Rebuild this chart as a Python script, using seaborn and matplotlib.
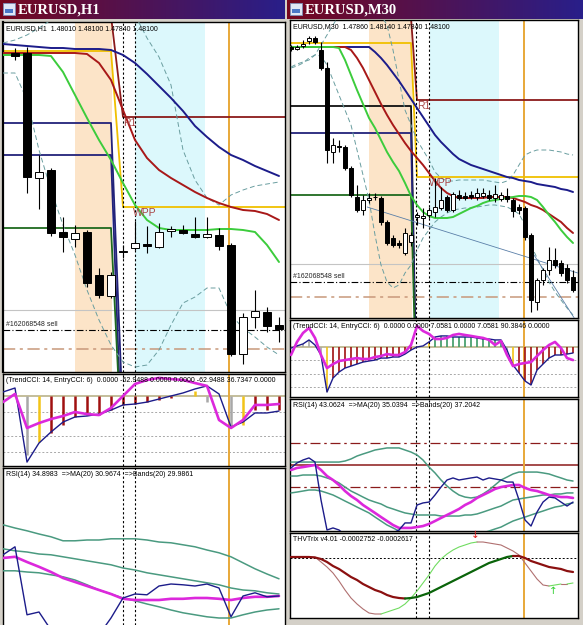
import numpy as np
import matplotlib
matplotlib.use("Agg")
import matplotlib.pyplot as plt
from matplotlib.patches import Rectangle
import seaborn as sns

# ---------------- EURUSD,H1 (left window) ----------------
h1_bars = np.arange(24)
h1_candle_bars = np.arange(1, 24)
h1_level_bars = np.arange(25)
h1_open = [1.48276, 1.48276, 1.47776, 1.47808, 1.47560, 1.47532, 1.47560, 1.47388, 1.47304, 1.47480, 1.47496, 1.47512,
           1.47500, 1.47564, 1.47568, 1.47552, 1.47540, 1.47548, 1.47508, 1.47072, 1.47220, 1.47240, 1.47188]
h1_high = [1.48296, 1.48300, 1.47868, 1.47816, 1.47620, 1.47588, 1.47568, 1.47416, 1.47400, 1.47508, 1.47604, 1.47584,
           1.47596, 1.47584, 1.47588, 1.47620, 1.47620, 1.47576, 1.47516, 1.47236, 1.47328, 1.47260, 1.47220]
h1_low = [1.48248, 1.47716, 1.47652, 1.47544, 1.47480, 1.47500, 1.47340, 1.47296, 1.47296, 1.47456, 1.47488, 1.47476,
          1.47496, 1.47540, 1.47552, 1.47536, 1.47536, 1.47488, 1.47064, 1.47032, 1.47176, 1.47160, 1.47120]
h1_close = [1.48264, 1.47780, 1.47800, 1.47556, 1.47540, 1.47556, 1.47356, 1.47308, 1.47388, 1.47484, 1.47516, 1.47504,
            1.47560, 1.47572, 1.47556, 1.47540, 1.47552, 1.47504, 1.47072, 1.47220, 1.47244, 1.47184, 1.47172]
h1_ma_slow = [1.48312, 1.48308, 1.48304, 1.48300, 1.48296, 1.48296, 1.48292, 1.48292, 1.48292, 1.48288, 1.48268, 1.48236,
              1.48192, 1.48144, 1.48096, 1.48044, 1.47984, 1.47940, 1.47900, 1.47868, 1.47848, 1.47824, 1.47804, 1.47784]
h1_ma_mid = [1.48276, 1.48276, 1.48276, 1.48276, 1.48276, 1.48276, 1.48276, 1.48272, 1.48236, 1.48168, 1.48048, 1.47928,
             1.47856, 1.47808, 1.47776, 1.47748, 1.47720, 1.47696, 1.47676, 1.47660, 1.47648, 1.47644, 1.47632, 1.47608]
h1_ma_fast = [1.48268, 1.48268, 1.48268, 1.48268, 1.48264, 1.48200, 1.48108, 1.48016, 1.47928, 1.47848, 1.47756, 1.47668,
              1.47608, 1.47576, 1.47568, 1.47568, 1.47568, 1.47568, 1.47572, 1.47572, 1.47568, 1.47560, 1.47508, 1.47440]
h1_band_hi = [1.48316, 1.48328, 1.48348, 1.48376, 1.48408, 1.48448, 1.48488, 1.48508, 1.48508, 1.48488, 1.48468, 1.48428,
              1.48336, 1.48260, 1.48148, 1.47888, 1.47768, 1.47696, 1.47668, 1.47708, 1.47728, 1.47744, 1.47752, 1.47760]
h1_band_lo = [1.48196, 1.48196, 1.48088, 1.47888, 1.47728, 1.47588, 1.47468, 1.47328, 1.47208, 1.47108, 1.47040, 1.47020,
              1.47028, 1.47088, 1.47188, 1.47276, 1.47300, 1.47336, 1.47336, 1.47228, 1.47176, 1.47140, 1.47100, 1.47068]
# pivot lines: value before / after the day change
h1_day_change = 9
h1_wpp = [1.48284, 1.47660]
h1_r1 = [1.48424, 1.48020]
h1_s_line1 = [1.47996, 1.46800]
h1_s_line2 = [1.47868, 1.46570]
h1_green_line = [1.47576, 1.46590]
h1_grey_price = 1.47248
h1_sell_price = 1.47168
h1_stop_price = 1.47092
h1_session_a = [6.0, 9.08]
h1_session_b = [11.0, 16.83]
h1_marks = [9.96, 10.96]
h1_now = 18.83

h1_cci_trend = [25, 50, -413, -294, -225, -163, -131, -125, -113, -88, -56, -50, -38, -19, 0, 19, 44, 63, 13, -194,
                -163, -106, -106, -94]
h1_cci_entry = [-38, 13, -200, -169, -144, -125, -100, -113, -119, -75, 0, 75, 100, 113, 106, 100, 81, 63, -150, -200,
                -150, -56, -56, -50]
h1_cci_hist = [0, 0, -369, -288, -231, -181, -131, -119, -119, -88, -56, -50, -38, -25, -13, 0, 31, -38, 0, -194, -181,
               -88, -88, -88]
h1_cci_kind = ['none', 'none', 'grey', 'gold', 'red', 'red', 'red', 'red', 'red', 'red', 'red', 'red', 'red', 'red',
               'red', 'none', 'gold', 'grey', 'none', 'grey', 'gold', 'red', 'red', 'red']
h1_cci_levels = [-100, -250, -350]

h1_rsi = [42.3, 44.3, 27.3, 28.0, 23.5, 21.0, 21.0, 21.0, 22.3, 26.5, 31.5, 32.5, 32.3, 34.5, 35.0, 34.8, 34.5, 35.0,
          34.0, 26.8, 32.0, 32.8, 31.8, 32.0]
h1_rsi_ma = [41.5, 41.8, 40.5, 39.3, 38.0, 36.5, 35.5, 34.5, 33.5, 32.5, 31.3, 31.0, 31.0, 31.0, 31.3, 31.3, 31.5, 31.5,
             31.3, 31.0, 31.5, 31.8, 31.8, 32.0]
h1_rsi_up = [49.8, 49.0, 48.3, 47.5, 46.8, 45.8, 45.8, 46.0, 46.0, 46.3, 46.3, 46.3, 46.0, 45.5, 45.3, 44.8, 44.3, 43.5,
             42.8, 41.8, 40.3, 38.8, 37.5, 36.3]
h1_rsi_mid = [43.8, 43.3, 43.0, 42.5, 42.3, 41.8, 41.3, 40.8, 40.3, 39.8, 39.0, 38.5, 37.8, 37.3, 36.8, 36.3, 35.8, 35.3,
              34.8, 34.0, 33.5, 33.3, 32.8, 32.5]
h1_rsi_dn = [38.3, 38.3, 38.0, 37.8, 37.3, 36.8, 36.0, 34.8, 33.5, 32.5, 31.5, 30.8, 30.0, 29.3, 28.5, 27.8, 27.3, 26.8,
             26.5, 26.5, 27.3, 28.0, 28.5, 28.8]

# ---------------- EURUSD,M30 (right window) ----------------
m30_bars = np.arange(48)
m30_level_bars = np.arange(49)
m30_open = [1.48355, 1.48345, 1.48360, 1.48385, 1.48400, 1.48340, 1.48250, 1.47830, 1.47860, 1.47855, 1.47750, 1.47605,
            1.47540, 1.47590, 1.47605, 1.47600, 1.47480, 1.47400, 1.47375, 1.47325, 1.47380, 1.47505, 1.47500, 1.47515,
            1.47530, 1.47550, 1.47605, 1.47540, 1.47615, 1.47610, 1.47615, 1.47605, 1.47610, 1.47615, 1.47600, 1.47595,
            1.47610, 1.47590, 1.47555, 1.47550, 1.47415, 1.47080, 1.47190, 1.47240, 1.47290, 1.47275, 1.47250, 1.47205]
m30_high = [1.48365, 1.48365, 1.48390, 1.48410, 1.48410, 1.48380, 1.48280, 1.47900, 1.47890, 1.47865, 1.47760, 1.47665,
            1.47615, 1.47625, 1.47625, 1.47610, 1.47490, 1.47415, 1.47390, 1.47450, 1.47430, 1.47530, 1.47550, 1.47555,
            1.47700, 1.47655, 1.47615, 1.47630, 1.47640, 1.47630, 1.47635, 1.47650, 1.47650, 1.47640, 1.47665, 1.47630,
            1.47650, 1.47600, 1.47570, 1.47560, 1.47425, 1.47200, 1.47250, 1.47355, 1.47350, 1.47290, 1.47270, 1.47240]
m30_low = [1.48335, 1.48340, 1.48350, 1.48370, 1.48370, 1.48240, 1.47775, 1.47775, 1.47830, 1.47740, 1.47605, 1.47530,
           1.47515, 1.47575, 1.47590, 1.47465, 1.47365, 1.47355, 1.47350, 1.47315, 1.47360, 1.47465, 1.47450, 1.47500,
           1.47505, 1.47540, 1.47530, 1.47530, 1.47590, 1.47590, 1.47595, 1.47590, 1.47600, 1.47590, 1.47580, 1.47585,
           1.47580, 1.47505, 1.47520, 1.47390, 1.47030, 1.47040, 1.47165, 1.47215, 1.47250, 1.47210, 1.47175, 1.47130]
m30_close = [1.48345, 1.48355, 1.48370, 1.48400, 1.48380, 1.48250, 1.47840, 1.47865, 1.47855, 1.47750, 1.47615, 1.47540,
             1.47590, 1.47600, 1.47603, 1.47480, 1.47375, 1.47365, 1.47365, 1.47425, 1.47415, 1.47515, 1.47510, 1.47540,
             1.47555, 1.47590, 1.47540, 1.47620, 1.47600, 1.47600, 1.47605, 1.47625, 1.47625, 1.47600, 1.47620, 1.47615,
             1.47595, 1.47535, 1.47540, 1.47405, 1.47090, 1.47190, 1.47240, 1.47290, 1.47265, 1.47225, 1.47190, 1.47140]
m30_ma_slow = [1.48355] * 14 + [1.48330, 1.48300, 1.48265, 1.48225, 1.48185, 1.48140, 1.48095, 1.48050, 1.48005,
                                1.47960, 1.47915, 1.47880, 1.47850, 1.47820, 1.47795, 1.47780, 1.47765, 1.47755,
                                1.47745, 1.47735, 1.47725, 1.47715, 1.47705, 1.47700, 1.47690, 1.47685, 1.47680,
                                1.47670, 1.47665, 1.47660, 1.47655, 1.47645, 1.47640, 1.47630]
m30_ma_mid = [1.48355] * 10 + [1.48340, 1.48300, 1.48250, 1.48190, 1.48130, 1.48070, 1.48015, 1.47965, 1.47920,
                               1.47875, 1.47835, 1.47800, 1.47765, 1.47725, 1.47685, 1.47650, 1.47625, 1.47610,
                               1.47600, 1.47600, 1.47600, 1.47600, 1.47600, 1.47605, 1.47605, 1.47605, 1.47605,
                               1.47600, 1.47590, 1.47580, 1.47565, 1.47555, 1.47540, 1.47520, 1.47500, 1.47480,
                               1.47450, 1.47425]
m30_ma_fast = [1.48355] * 8 + [1.48350, 1.48290, 1.48215, 1.48140, 1.48070, 1.48000, 1.47950, 1.47890, 1.47830,
                               1.47780, 1.47735, 1.47675, 1.47610, 1.47565, 1.47530, 1.47510, 1.47500, 1.47500,
                               1.47500, 1.47505, 1.47520, 1.47535, 1.47550, 1.47560, 1.47575, 1.47585, 1.47590,
                               1.47595, 1.47600, 1.47605, 1.47610, 1.47610, 1.47605, 1.47590, 1.47555, 1.47515,
                               1.47480, 1.47440, 1.47405, 1.47375]
m30_band_hi = [1.48255, 1.48270, 1.48280, 1.48290, 1.48315, 1.48365, 1.48415, 1.48465, 1.48515, 1.48550, 1.48575,
               1.48590, 1.48590, 1.48575, 1.48550, 1.48515, 1.48465, 1.48340, 1.48190, 1.48040, 1.47965, 1.47890,
               1.47840, 1.47790, 1.47730, 1.47700, 1.47685, 1.47685, 1.47690, 1.47690, 1.47690, 1.47690, 1.47690,
               1.47685, 1.47680, 1.47675, 1.47685, 1.47715, 1.47765, 1.47815, 1.47830, 1.47840, 1.47840, 1.47840,
               1.47835, 1.47830, 1.47820, 1.47815]
m30_band_lo = [1.48250, 1.48260, 1.48275, 1.48300, 1.48315, 1.48310, 1.48265, 1.48190, 1.48115, 1.48040, 1.47965,
               1.47840, 1.47715, 1.47590, 1.47415, 1.47265, 1.47180, 1.47150, 1.47165, 1.47225, 1.47265, 1.47340,
               1.47400, 1.47440, 1.47480, 1.47505, 1.47525, 1.47540, 1.47545, 1.47550, 1.47550, 1.47555, 1.47560,
               1.47565, 1.47565, 1.47560, 1.47555, 1.47540, 1.47520, 1.47465, 1.47365, 1.47300, 1.47240, 1.47180,
               1.47130, 1.47090, 1.47050, 1.47015]
m30_trend1_x = [12.7, 47.8]
m30_trend1_y = [1.47555, 1.47225]
m30_trend2_x = [40.5, 47.2]
m30_trend2_y = [1.47315, 1.47000]
m30_day_change = 20
m30_wpp = [1.48375, 1.47705]
m30_r1 = [1.48500, 1.48090]
m30_s_line = [1.47925, 1.46500]
m30_black_line = [1.48060, 1.46500]
m30_green_line = [1.47615, 1.46500]
m30_grey_price = 1.47270
m30_sell_price = 1.47180
m30_stop_price = 1.47105
m30_session_a = [13.0, 20.17]
m30_session_b = [23.17, 34.67]
m30_marks = [20.83, 23.0]
m30_now = 38.83

m30_cci_trend = [-8, 8, 23, 53, 15, -60, -338, -233, -188, -158, -143, -128, -113, -105, -98, -83, -83, -75, -75, -53,
                 -23, 0, 8, 38, 75, 83, 83, 75, 75, 75, 75, 68, 60, 60, 53, 53, -23, -135, -195, -255, -285, -173,
                 -128, -83, -60, -60, -53, -45]
m30_cci_entry = [-60, 38, 105, 143, 68, -60, -158, -128, -105, -98, -90, -83, -90, -90, -75, -68, -53, -60, -60, -38,
                 15, 158, 120, 98, 60, 60, 68, 90, 98, 90, 83, 75, 68, 53, 15, 45, -60, -143, -128, -120, -113, -68,
                 -23, 15, 38, -8, -83, -98]
m30_cci_hist = [0, 8, 23, 53, 0, -60, -338, -233, -188, -158, -143, -128, -113, -105, -98, -83, -83, -75, -75, -53,
                -23, 0, 0, 38, 75, 83, 83, 75, 75, 75, 75, 68, 60, 60, 53, 53, -60, -150, -195, -255, -285, -173,
                -128, -83, -60, -60, -53, -45]
m30_cci_kind = ['none', 'grey', 'grey', 'grey', 'none', 'grey', 'gold'] + ['red'] * 14 + ['none', 'none', 'gold'] + \
               ['green'] * 12 + ['grey', 'gold'] + ['red'] * 10
m30_cci_levels = [-100, -200, -300]

m30_rsi = [48.0, 51.4, 53.4, 54.8, 52.0, 26.2, 5.8, 7.2, 5.8, 2.4, 1.7, 1.7, 1.7, 1.7, 1.7, 2.4, 2.4, 3.8, 5.8, 10.6,
           10.6, 22.8, 24.2, 24.8, 29.6, 35.0, 39.8, 41.2, 39.8, 40.5, 41.2, 41.8, 39.8, 41.2, 40.5, 39.8, 38.4, 38.4,
           26.2, 12.6, 8.5, 18.0, 24.8, 28.2, 27.6, 24.8, 22.1, 24.8]
m30_rsi_ma = [46.6, 48.0, 48.6, 49.3, 50.0, 46.6, 42.5, 39.8, 36.4, 32.3, 28.9, 26.2, 22.8, 20.1, 17.4, 14.6, 11.9, 9.2,
              7.2, 7.2, 7.2, 7.8, 8.5, 9.9, 11.9, 14.0, 16.0, 18.0, 20.1, 22.8, 24.8, 27.6, 29.6, 31.6, 33.7, 35.0,
              35.7, 36.4, 36.4, 34.4, 33.0, 32.3, 31.0, 29.6, 28.9, 28.2, 28.2, 27.6]
m30_rsi_up = [52.0] * 9 + [52.7, 54.1, 56.1, 57.5, 58.8, 60.2, 60.9, 61.6, 61.6, 61.6, 60.2, 58.8, 56.8, 53.4, 48.6,
                           44.6, 39.8, 35.7, 32.3, 29.6, 28.2, 27.6, 28.2, 30.3, 33.0, 36.4, 39.8, 41.8, 43.9, 45.2,
                           45.2, 45.2, 45.2, 44.6, 43.9, 42.5, 41.2, 39.8, 39.1]
m30_rsi_mid = [42.5, 42.5, 43.2, 43.2, 43.2, 42.5, 41.2, 39.8, 37.8, 35.0, 32.3, 30.3, 28.2, 26.2, 24.8, 23.5, 21.4,
               20.1, 18.7, 17.4, 16.7, 16.0, 16.0, 16.0, 16.0, 15.3, 15.3, 15.3, 15.3, 16.0, 16.0, 16.7, 18.0, 19.4,
               20.8, 22.1, 24.2, 26.2, 26.9, 27.6, 28.2, 28.9, 29.6, 29.6, 30.3, 30.3, 31.0, 31.0]
m30_rsi_dn = [31.0, 31.6, 32.3, 33.0, 33.0, 32.3, 31.0, 29.6, 27.6, 25.5, 23.5, 21.4, 19.4, 17.4, 14.6, 11.9, 9.2, 7.2,
              5.1, 3.1, 1.7, 0.4, -1.0, -1.7, -2.4, -2.4, -2.4, -1.7, -1.0, -0.3, 1.0, 2.4, 3.8, 5.1, 6.5, 7.8, 9.9,
              11.9, 13.3, 14.6, 16.0, 17.4, 18.7, 20.1, 21.4, 22.1, 23.5, 24.2]
m30_rsi_levels = [65, 50, 35]

m30_trix = [0.00002, 0.00002, 0.00002, 0.00002, 0.00001, -0.00002, -0.00008, -0.00016, -0.00022, -0.00030, -0.00038,
            -0.00044, -0.00052, -0.00058, -0.00064, -0.00068, -0.00074, -0.00078, -0.00080, -0.00081, -0.00080,
            -0.00078, -0.00074, -0.00070, -0.00064, -0.00058, -0.00052, -0.00046, -0.00040, -0.00034, -0.00028,
            -0.00022, -0.00016, -0.00010, -0.00006, -0.00002, 0.00002, 0.00004, 0.00004, 0.00000, -0.00006, -0.00010,
            -0.00014, -0.00018, -0.00020, -0.00022, -0.00026, -0.00028]
m30_trix_signal = [0.00002, 0.00002, 0.00002, 0.00002, 0.00002, -0.00008, -0.00018, -0.00030, -0.00046, -0.00064,
                   -0.00080, -0.00092, -0.00102, -0.00110, -0.00112, -0.00112, -0.00108, -0.00104, -0.00100, -0.00092,
                   -0.00080, -0.00066, -0.00050, -0.00034, -0.00016, -0.00002, 0.00008, 0.00016, 0.00022, 0.00026,
                   0.00030, 0.00032, 0.00032, 0.00030, 0.00028, 0.00026, 0.00020, 0.00014, 0.00006, -0.00010, -0.00026,
                   -0.00042, -0.00054, -0.00056, -0.00054, -0.00052, -0.00052, -0.00050]
m30_sell_arrow = [30.7, 0.00046]
m30_buy_arrow = [43.7, -0.00066]

# ---------------- texts ----------------
h1_title = "EURUSD,H1"
m30_title = "EURUSD,M30"
h1_head = "EURUSD,H1  1.48010 1.48100 1.47840 1.48100"
m30_head = "EURUSD,M30  1.47860 1.48140 1.47840 1.48100"
h1_cci_head = "(TrendCCI: 14, EntryCCI: 6)  0.0000 -62.9488 0.0000 0.0000 -62.9488 36.7347 0.0000"
m30_cci_head = "(TrendCCI: 14, EntryCCI: 6)  0.0000 0.0000 7.0581 0.0000 7.0581 90.3846 0.0000"
h1_rsi_head = "RSI(14) 34.8983  =>MA(20) 30.9674  =>Bands(20) 29.9861"
m30_rsi_head = "RSI(14) 43.0624  =>MA(20) 35.0394  =>Bands(20) 37.2042"
trix_head = "THVTrix v4.01 -0.0002752 -0.0002617"
order_label = "#162068548 sell"

# ---------------- drawing ----------------
W, H = 583, 625
sns.set_style("white")
plt.rcParams["font.family"] = ["Liberation Sans", "DejaVu Sans"]
SMALL = ["Liberation Sans", "DejaVu Sans"]
SMALL_SIZE = 5.0
HIST = {"grey": "#a8a8a8", "gold": "#f2c418", "red": "#a01010", "green": "#3c9a64", "none": "none"}
NAVY, MA_RED, MA_GREEN = "#1c1c8a", "#a81818", "#3ccc3c"
BAND, TEAL, MAGENTA = "#6a9ea0", "#4a9a80", "#dc28dc"
LABEL = "#a84444"

fig = plt.figure(figsize=(W / 100, H / 100), dpi=100, facecolor="#d4d0c8")


def panel(x0, y0, x1, y1):
    ax = fig.add_axes([x0 / W, 1 - y1 / H, (x1 - x0) / W, (y1 - y0) / H])
    ax.set_facecolor("white")
    return ax


def finish(ax, xlim, ylim):
    ax.set_xlim(*xlim)
    ax.set_ylim(*ylim)
    ax.set_xticks([])
    ax.set_yticks([])
    ax.set_xlabel("")
    ax.set_ylabel("")
    for s in ax.spines.values():
        s.set_color("black")
        s.set_linewidth(1.0)


def line(ax, x, y, color, width=1.0, style="-", z=3):
    sns.lineplot(x=np.asarray(x, float), y=np.asarray(y, float), ax=ax, color=color, linewidth=width,
                 linestyle=style, estimator=None, sort=False, legend=False, zorder=z)


def two_colour(ax, x, y, down, up, width):
    x = np.asarray(x, float)
    y = np.asarray(y, float)
    rising = np.diff(y) > 0
    start = 0
    for k in range(1, len(rising) + 1):
        if k == len(rising) or rising[k] != rising[start]:
            line(ax, x[start:k + 1], y[start:k + 1], up if rising[start] else down, width, z=4)
            start = k


def candles(ax, x, o, h, l, c, width):
    o, h, l, c = (np.asarray(v, float) for v in (o, h, l, c))
    ax.vlines(x, l, h, color="black", linewidth=0.8, zorder=5)
    bull = c >= o
    ax.bar(x, np.maximum(np.abs(c - o), 1e-6), bottom=np.minimum(o, c), width=width,
           color=np.where(bull, "white", "black"), edgecolor="black", linewidth=0.7, zorder=6)


def pivot(ax, bars, change, values, color, width=1.3):
    line(ax, bars, np.where(bars <= change, values[0], values[1]), color, width, z=2)


def header(ax, text):
    ax.annotate(text, xy=(0, 1), xycoords="axes fraction", xytext=(2, -2.4), textcoords="offset points",
                ha="left", va="top", fontsize=SMALL_SIZE, family=SMALL, color="black", zorder=10)


def verticals(ax, marks, now):
    for m in marks:
        ax.axvline(m, color="black", linewidth=0.8, linestyle=(0, (2, 2)), zorder=3)
    ax.axvline(now, color="#e8a838", linewidth=1.4, zorder=2)


def title_bar(x0, x1, text):
    ax = fig.add_axes([x0 / W, 1 - 19 / H, (x1 - x0) / W, 19 / H])
    grad = np.linspace(0, 1, 256)[:, None]
    c0, c1 = np.array([0.46, 0.03, 0.12]), np.array([0.16, 0.12, 0.54])
    ax.imshow((c0 + (c1 - c0) * grad)[None, :, :], aspect="auto", extent=(0, 1, 0, 1))
    ax.set_axis_off()
    pw = x1 - x0
    ax.add_patch(Rectangle((3 / pw, 0.2), 12 / pw, 0.62, facecolor="#dfe8f6", edgecolor="#7f8fb8", lw=0.6))
    ax.add_patch(Rectangle((5 / pw, 0.3), 8 / pw, 0.25, facecolor="#4a78c8", edgecolor="none"))
    ax.text(18 / pw, 0.47, text, color="white", fontsize=10.5, weight="bold",
            family=["Liberation Serif", "DejaVu Serif"], va="center", ha="left")


def price_window(ax, bars, level_bars, o, h, l, c, cbars, cw, slow, mid, fast, b_hi, b_lo, change, wpp, r1,
                 others, grey_p, sell_p, stop_p, sess_a, sess_b, marks, now):
    ax.axvspan(*sess_a, color="#fce4c8", lw=0, zorder=0)
    ax.axvspan(*sess_b, color="#dcf8fc", lw=0, zorder=0)
    verticals(ax, marks, now)
    ax.axhline(grey_p, color="#c4c4c4", linewidth=0.8, zorder=1)
    ax.axhline(sell_p, color="black", linewidth=0.8, linestyle=(0, (6, 2, 1, 2)), zorder=1)
    ax.axhline(stop_p, color="#c8987a", linewidth=1.1, linestyle=(0, (8, 3, 2, 3)), zorder=1)
    for values, colour in others:
        pivot(ax, level_bars, change, values, colour)
    pivot(ax, level_bars, change, wpp, "#f0c000")
    pivot(ax, level_bars, change, r1, "#8b1a1a")
    line(ax, bars, b_hi, BAND, 0.7, (0, (5, 3)))
    line(ax, bars, b_lo, BAND, 0.7, (0, (5, 3)))
    line(ax, bars, slow, NAVY, 1.4)
    line(ax, bars, mid, MA_RED, 1.4)
    line(ax, bars, fast, MA_GREEN, 1.4)
    candles(ax, cbars, o, h, l, c, cw)
    ax.annotate(order_label, xy=(0, sell_p), xycoords=("axes fraction", "data"), xytext=(2.5, 1.5),
                textcoords="offset points", fontsize=SMALL_SIZE, family=SMALL, va="bottom", ha="left")


def cci_window(ax, bars, trend, entry, hist, kind, levels, width):
    ax.axhline(0, color="#b4ac80", linewidth=1.1, zorder=1)
    for lv in levels:
        ax.axhline(lv, color="#a8a8a8", linewidth=0.7, linestyle=(0, (2, 2)), zorder=1)
    ax.vlines(bars, 0, hist, colors=[HIST[k] for k in kind], linewidth=width, zorder=2)
    line(ax, bars, trend, NAVY, 1.0, z=4)
    line(ax, bars, entry, MAGENTA, 1.9, z=5)


# ----- left window -----
title_bar(0, 285, h1_title)
ax = panel(3, 22, 285, 372)
price_window(ax, h1_bars, h1_level_bars, h1_open, h1_high, h1_low, h1_close, h1_candle_bars, 0.62,
             h1_ma_slow, h1_ma_mid, h1_ma_fast, h1_band_hi, h1_band_lo, h1_day_change, h1_wpp, h1_r1,
             [(h1_s_line1, "#22227a"), (h1_s_line2, "#22227a"), (h1_green_line, "#1f6a1f")],
             h1_grey_price, h1_sell_price, h1_stop_price, h1_session_a, h1_session_b, h1_marks, h1_now)
ax.annotate("R1", xy=(10.0, h1_r1[1]), xytext=(0, -1), textcoords="offset points", va="top", ha="left",
            fontsize=7.5, color=LABEL)
ax.annotate("WPP", xy=(10.8, h1_wpp[1]), xytext=(0, -1), textcoords="offset points", va="top", ha="left",
            fontsize=7.5, color=LABEL)
header(ax, h1_head)
finish(ax, (0, 23.5), (1.47000, 1.48400))
ax.spines["left"].set_linewidth(1.6)

ax = panel(3, 374, 285, 466)
verticals(ax, h1_marks, h1_now)
cci_window(ax, h1_bars, h1_cci_trend, h1_cci_entry, h1_cci_hist, h1_cci_kind, h1_cci_levels, 1.8)
header(ax, h1_cci_head)
finish(ax, (0, 23.5), (-437.5, 137.5))

ax = panel(3, 468, 285, 625)
verticals(ax, h1_marks, h1_now)
for band in (h1_rsi_up, h1_rsi_mid, h1_rsi_dn):
    line(ax, h1_bars, band, TEAL, 1.1)
line(ax, h1_bars, h1_rsi_ma, MAGENTA, 1.9, z=4)
line(ax, h1_bars, h1_rsi, NAVY, 1.0, z=5)
header(ax, h1_rsi_head)
finish(ax, (0, 23.5), (24.75, 64.0))
ax.spines["bottom"].set_visible(False)

# ----- right window -----
title_bar(287, 583, m30_title)
mx = (-1 / 6, 47.83)
ax = panel(290, 20, 578, 318)
price_window(ax, m30_bars, m30_level_bars, m30_open, m30_high, m30_low, m30_close, m30_bars, 0.62,
             m30_ma_slow, m30_ma_mid, m30_ma_fast, m30_band_hi, m30_band_lo, m30_day_change, m30_wpp, m30_r1,
             [(m30_black_line, "#101010"), (m30_s_line, "#22227a"), (m30_green_line, "#1f6a1f")],
             m30_grey_price, m30_sell_price, m30_stop_price, m30_session_a, m30_session_b, m30_marks, m30_now)
line(ax, m30_trend1_x, m30_trend1_y, "#5a7fa8", 0.6)
line(ax, m30_trend2_x, m30_trend2_y, "#5a7fa8", 0.6)
ax.annotate("R1", xy=(21.0, m30_r1[1]), xytext=(0, -1), textcoords="offset points", va="top", ha="left",
            fontsize=7.5, color=LABEL)
ax.annotate("WPP", xy=(23.0, m30_wpp[1]), xytext=(0, -1), textcoords="offset points", va="top", ha="left",
            fontsize=7.5, color=LABEL)
header(ax, m30_head)
finish(ax, mx, (1.47000, 1.48490))

ax = panel(290, 320, 578, 397)
verticals(ax, m30_marks, m30_now)
cci_window(ax, m30_bars, m30_cci_trend, m30_cci_entry, m30_cci_hist, m30_cci_kind, m30_cci_levels, 1.2)
header(ax, m30_cci_head)
finish(ax, mx, (-375, 202.5))

ax = panel(290, 399, 578, 531)
verticals(ax, m30_marks, m30_now)
ax.axhline(m30_rsi_levels[0], color="#8b1a1a", linewidth=0.9, linestyle=(0, (8, 3, 2, 3)), zorder=1)
ax.axhline(m30_rsi_levels[1], color="#8b1a1a", linewidth=1.1, zorder=1)
ax.axhline(m30_rsi_levels[2], color="#8b1a1a", linewidth=0.9, linestyle=(0, (8, 3, 2, 3)), zorder=1)
for band in (m30_rsi_up, m30_rsi_mid, m30_rsi_dn):
    line(ax, m30_bars, band, TEAL, 1.1)
line(ax, m30_bars, m30_rsi_ma, MAGENTA, 1.9, z=4)
line(ax, m30_bars, m30_rsi, NAVY, 1.0, z=5)
header(ax, m30_rsi_head)
finish(ax, mx, (5.12, 94.88))

ax = panel(290, 533, 578, 618)
verticals(ax, m30_marks, m30_now)
ax.axhline(0, color="black", linewidth=0.7, linestyle=(0, (2, 2)), zorder=1)
two_colour(ax, m30_bars, m30_trix_signal, "#b07070", "#70dc60", 0.8)
two_colour(ax, m30_bars, m30_trix, "#8b1010", "#0a640a", 1.6)
ax.text(*m30_sell_arrow, "\u2193", color="#e02020", fontsize=7.5, ha="center", va="center", family="DejaVu Sans")
ax.text(*m30_buy_arrow, "\u2191", color="#30d030", fontsize=7.5, ha="center", va="center", family="DejaVu Sans")
header(ax, trix_head)
finish(ax, mx, (-0.0012, 0.0005))

fig.savefig("out.png", dpi=100, facecolor=fig.get_facecolor())
